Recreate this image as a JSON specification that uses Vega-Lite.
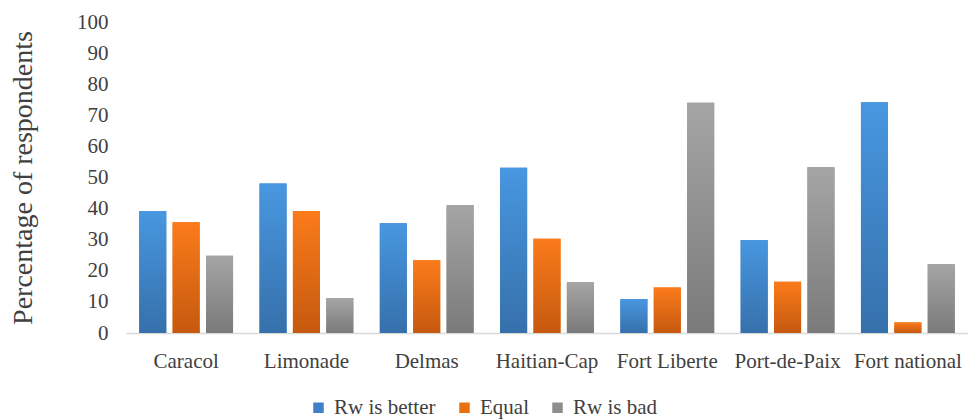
{
  "$schema": "https://vega.github.io/schema/vega-lite/v6.json",
  "autosize": "none",
  "width": 842,
  "height": 311,
  "padding": {"left": 126, "top": 22, "right": 0, "bottom": 86},
  "background": "white",
  "config": {
    "view": {"stroke": null},
    "font": "Liberation Serif, Times New Roman, serif",
    "axis": {"labelFont": "Liberation Serif, Times New Roman, serif", "titleFont": "Liberation Serif, Times New Roman, serif", "labelColor": "#404040", "titleColor": "#404040"},
    "legend": {"labelFont": "Liberation Serif, Times New Roman, serif", "labelColor": "#404040"}
  },
  "data": {
    "values": [
      {"site": "Caracol", "series": "Rw is better", "value": 39.2},
      {"site": "Caracol", "series": "Equal", "value": 35.6},
      {"site": "Caracol", "series": "Rw is bad", "value": 24.8},
      {"site": "Limonade", "series": "Rw is better", "value": 48.1},
      {"site": "Limonade", "series": "Equal", "value": 39.2},
      {"site": "Limonade", "series": "Rw is bad", "value": 11.2},
      {"site": "Delmas", "series": "Rw is better", "value": 35.3},
      {"site": "Delmas", "series": "Equal", "value": 23.4},
      {"site": "Delmas", "series": "Rw is bad", "value": 41.1},
      {"site": "Haitian-Cap", "series": "Rw is better", "value": 53.1},
      {"site": "Haitian-Cap", "series": "Equal", "value": 30.3},
      {"site": "Haitian-Cap", "series": "Rw is bad", "value": 16.3},
      {"site": "Fort Liberte", "series": "Rw is better", "value": 10.9},
      {"site": "Fort Liberte", "series": "Equal", "value": 14.6},
      {"site": "Fort Liberte", "series": "Rw is bad", "value": 74.0},
      {"site": "Port-de-Paix", "series": "Rw is better", "value": 29.9},
      {"site": "Port-de-Paix", "series": "Equal", "value": 16.5},
      {"site": "Port-de-Paix", "series": "Rw is bad", "value": 53.3},
      {"site": "Fort national", "series": "Rw is better", "value": 74.2},
      {"site": "Fort national", "series": "Equal", "value": 3.4},
      {"site": "Fort national", "series": "Rw is bad", "value": 22.1}
    ]
  },
  "encoding": {
    "x": {
      "field": "site", "type": "nominal",
      "sort": ["Caracol", "Limonade", "Delmas", "Haitian-Cap", "Fort Liberte", "Port-de-Paix", "Fort national"],
      "scale": {"paddingInner": 0.22, "paddingOuter": 0.11},
      "axis": {"title": null, "labelAngle": 0, "labelFontSize": 21, "labelPadding": 17, "ticks": false, "domainColor": "#d9d9d9", "domainWidth": 1.5}
    },
    "xOffset": {
      "field": "series", "type": "nominal",
      "sort": ["Rw is better", "Equal", "Rw is bad"],
      "scale": {"domain": ["Rw is better", "Equal", "Rw is bad"], "paddingInner": 0.19, "paddingOuter": 0}
    },
    "y": {
      "field": "value", "type": "quantitative",
      "scale": {"domain": [0, 100], "nice": false},
      "axis": {"title": "Percentage of respondents", "titleFontSize": 28, "titleFontWeight": "normal", "titlePadding": 39, "labelFontSize": 21, "labelPadding": 18, "ticks": false, "domain": false, "grid": false, "values": [0,10,20,30,40,50,60,70,80,90,100]}
    }
  },
  "layer": [
    {
      "mark": {"type": "bar"},
      "encoding": {
        "color": {
          "field": "series", "type": "nominal",
          "sort": ["Rw is better", "Equal", "Rw is bad"],
          "scale": {"domain": ["Rw is better", "Equal", "Rw is bad"], "range": ["#3f80c8", "#e8700f", "#8e8e8e"]},
          "legend": {"title": null, "orient": "none", "legendX": 182, "legendY": 375, "direction": "horizontal", "symbolType": "square", "symbolSize": 110, "symbolStrokeWidth": 0, "labelFontSize": 21, "labelOffset": 5, "columnPadding": 18}
        }
      }
    },
    {
      "transform": [{"filter": "datum.series === 'Rw is better'"}],
      "mark": {"type": "bar", "fill": {"gradient": "linear", "x1": 0, "y1": 0, "x2": 0, "y2": 1, "stops": [{"offset": 0, "color": "#4897e0"}, {"offset": 1, "color": "#3670ab"}]}}
    },
    {
      "transform": [{"filter": "datum.series === 'Equal'"}],
      "mark": {"type": "bar", "fill": {"gradient": "linear", "x1": 0, "y1": 0, "x2": 0, "y2": 1, "stops": [{"offset": 0, "color": "#fb7b1b"}, {"offset": 1, "color": "#c5590f"}]}}
    },
    {
      "transform": [{"filter": "datum.series === 'Rw is bad'"}],
      "mark": {"type": "bar", "fill": {"gradient": "linear", "x1": 0, "y1": 0, "x2": 0, "y2": 1, "stops": [{"offset": 0, "color": "#a5a5a5"}, {"offset": 1, "color": "#7a7a7a"}]}}
    }
  ]
}
